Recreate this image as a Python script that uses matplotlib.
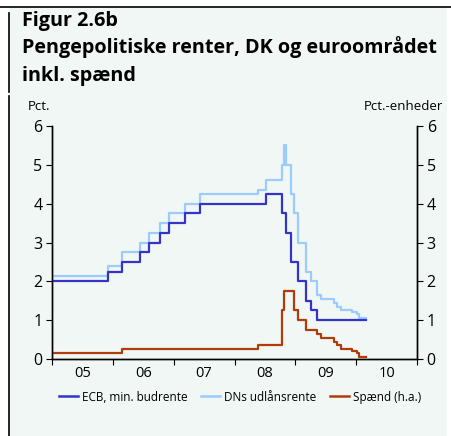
import matplotlib.pyplot as plt
from matplotlib.lines import Line2D
from matplotlib.patches import Rectangle

# policy-rate change dates (decimal years) and the rate in force from each date
dates = [2005.00, 2005.92, 2006.15, 2006.44, 2006.59, 2006.77, 2006.93, 2007.19,
         2007.44, 2008.38, 2008.51, 2008.775, 2008.82, 2008.85, 2008.93, 2008.97,
         2009.05, 2009.18, 2009.26, 2009.35, 2009.43, 2009.63, 2009.68, 2009.75,
         2009.93, 2010.02, 2010.05]
ecb = [2.00, 2.25, 2.50, 2.75, 3.00, 3.25, 3.50, 3.75,
       4.00, 4.00, 4.25, 3.75, 3.75, 3.25, 2.50, 2.50,
       2.00, 1.50, 1.25, 1.00, 1.00, 1.00, 1.00, 1.00,
       1.00, 1.00, 1.00]
dn = [2.15, 2.40, 2.75, 3.00, 3.25, 3.50, 3.75, 4.00,
      4.25, 4.35, 4.60, 5.00, 5.50, 5.00, 4.25, 3.75,
      3.00, 2.25, 2.00, 1.65, 1.55, 1.45, 1.35, 1.25,
      1.20, 1.15, 1.05]
end_date = 2010.16
spread = [d - e for d, e in zip(dn, ecb)]

year_ticks = list(range(2005, 2012))
year_labels = ["05", "06", "07", "08", "09", "10"]

ECB_C, DN_C, SPR_C = "#3434c8", "#9ccbff", "#b03c0c"
BG = "#f0f7f4"
FONT = ["Open Sans", "DejaVu Sans"]
plt.rcParams["font.family"] = FONT

fig = plt.figure(figsize=(4.52, 4.36), dpi=100)
fig.patch.set_facecolor("white")

# panel background and frame
fig.patches.append(Rectangle((9 / 452, 0), 438 / 452, 1 - 8 / 436, transform=fig.transFigure,
                             facecolor=BG, edgecolor="none", zorder=-5))
fig.add_artist(Line2D([0, 1], [1 - 7 / 436] * 2, color="black", lw=1.2))
fig.add_artist(Line2D([8.5 / 452] * 2, [1 - 13 / 436, 1 - 92 / 436], color="black", lw=1.2))
fig.add_artist(Line2D([8.5 / 452] * 2, [0, 1 - 96 / 436], color="black", lw=1.2))

for ypx, line in ((21, "Figur 2.6b"), (47, "Pengepolitiske renter, DK og euroområdet"),
                  (76, "inkl. spænd")):
    fig.text(22 / 452, 1 - ypx / 436, line, fontsize=14.2, fontweight="bold", va="center")

ax = fig.add_axes([52 / 452, 1 - 359 / 436, 365 / 452, 233 / 436])
ax.patch.set_alpha(0)
ax2 = ax.twinx()


def steps(vals):
    return dates + [end_date], vals + [vals[-1]]


x, y = steps(ecb)
ax.step(x, y, where="post", color=ECB_C, lw=1.6, zorder=3)
x, y = steps(dn)
ax.step(x, y, where="post", color=DN_C, lw=1.6, zorder=2)
x, y = steps(spread)
ax2.step(x, y, where="post", color=SPR_C, lw=1.6)

for a in (ax, ax2):
    a.set_xlim(2005, 2011)
    a.set_ylim(0, 6)
    a.set_yticks(range(7))
    a.spines["top"].set_visible(False)
    for s in a.spines.values():
        s.set_linewidth(1.0)
ax.set_xticks(year_ticks)
ax.set_xticklabels([])
ax.set_xticks([t + 0.5 for t in year_ticks[:-1]], minor=True)
ax.set_xticklabels(year_labels, minor=True)
ax.tick_params(axis="x", which="major", direction="out", length=4)
ax.tick_params(axis="x", which="minor", length=0, labelsize=10.5, pad=5)
ax.tick_params(axis="y", direction="out", length=4, labelsize=11.5, pad=3)
ax2.tick_params(axis="y", direction="out", length=4, labelsize=11.5, pad=3)

fig.text(28 / 452, 1 - 106 / 436, "Pct.", fontsize=9.5, va="center")
fig.text(443 / 452, 1 - 106 / 436, "Pct.-enheder", fontsize=9.5, va="center", ha="right")

handles = [Line2D([], [], color=c, lw=1.8) for c in (ECB_C, DN_C, SPR_C)]
fig.legend(handles, ["ECB, min. budrente", "DNs udlånsrente", "Spænd (h.a.)"],
           loc="center", bbox_to_anchor=(240 / 452, 1 - 397 / 436), ncol=3, frameon=False,
           fontsize=8.5, handlelength=1.6, handletextpad=0.3, columnspacing=1.2)

fig.savefig("out.png", dpi=100, facecolor="white")
